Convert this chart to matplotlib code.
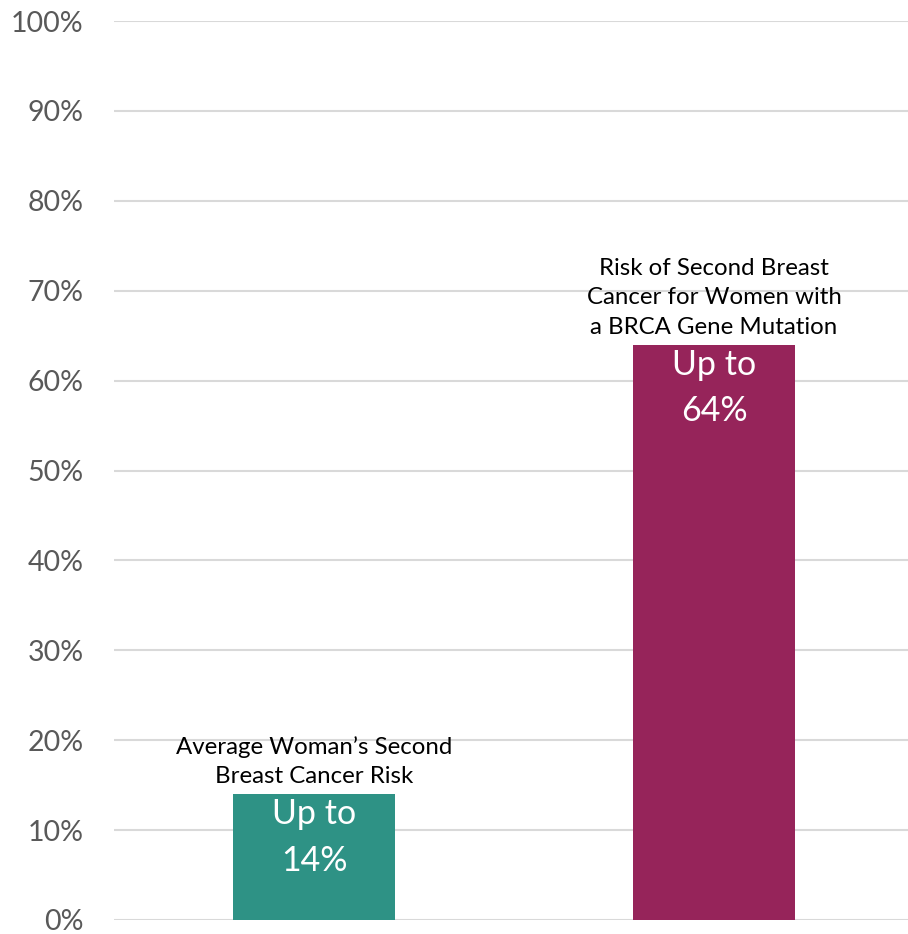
import matplotlib
matplotlib.use("Agg")
import matplotlib.pyplot as plt

categories = ["Average Woman\u2019s Second\nBreast Cancer Risk",
              "Risk of Second Breast\nCancer for Women with\na BRCA Gene Mutation"]
values = [14, 64]
inner_labels = ["Up to\n14%", "Up to\n64%"]
colors = ["#2E9285", "#96245A"]
yticks = list(range(0, 101, 10))
ytick_labels = [f"{t}%" for t in yticks]

plt.rcParams['font.family'] = ['Lato', 'DejaVu Sans']

fig = plt.figure(figsize=(9.08, 9.34), dpi=100)
ax = fig.add_axes([114/908, 1 - 920/934, 800/908, (920 - 21)/934])

x = list(range(len(values)))
bars = ax.bar(x, values, width=0.403, color=colors, zorder=3)

ax.set_xlim(-0.5, 1.5)
ax.set_ylim(0, 100)
ax.set_yticks(yticks)
ax.set_yticklabels(ytick_labels, fontsize=20.5, color="#595959")
ax.tick_params(axis='y', length=0, pad=22)
ax.set_xticks([])
ax.grid(axis='y', color="#D9D9D9", linewidth=1.5, zorder=0)
for s in ax.spines.values():
    s.set_visible(False)

for xi, v, cat, inner in zip(x, values, categories, inner_labels):
    ax.annotate(cat, (xi, v), xytext=(0, 5), textcoords='offset points',
                ha='center', va='bottom', fontsize=17.3, color='black',
                linespacing=1.5)
    ax.annotate(inner, (xi, v), xytext=(0, -3), textcoords='offset points',
                ha='center', va='top', fontsize=24.5, color='white',
                linespacing=1.55)

fig.savefig("out.png", dpi=100)
